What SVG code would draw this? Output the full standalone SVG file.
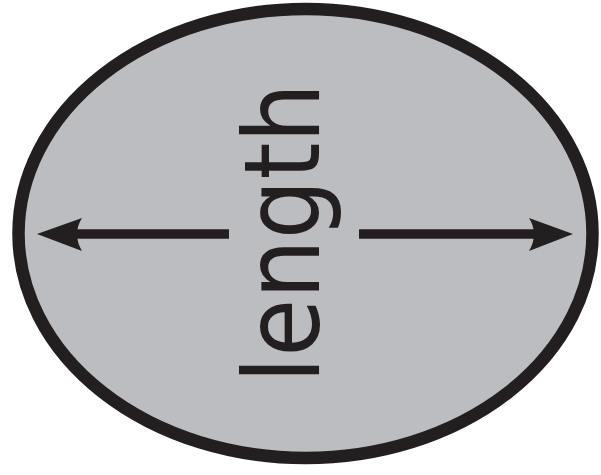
<svg xmlns="http://www.w3.org/2000/svg" width="601" height="475" viewBox="0 0 601 475">
<style>
.shape{fill:#bcbdc0;stroke:#231f20;stroke-width:12.5}
.shaft{stroke:#231f20;stroke-width:9.5;fill:none}
.head{fill:#231f20}
.lbl{font-family:"DejaVu Sans",sans-serif;font-size:106px;fill:#231f20}
</style>
<g id="ellipse-node">
<ellipse class="shape" cx="305.5" cy="233.5" rx="287" ry="224.5"/>
<text class="lbl" text-anchor="middle" transform="translate(319,233) rotate(-90)" textLength="300" lengthAdjust="spacingAndGlyphs">length</text>
</g>
<g id="connectors">
<line class="shaft" x1="229" y1="234" x2="74" y2="234"/>
<path class="head" d="M37,234 L82,218 Q72,234 82,251 Z"/>
<line class="shaft" x1="359" y1="234" x2="536" y2="234"/>
<path class="head" d="M573,234 L529,218 Q539,234 529,251 Z"/>
</g>
</svg>
